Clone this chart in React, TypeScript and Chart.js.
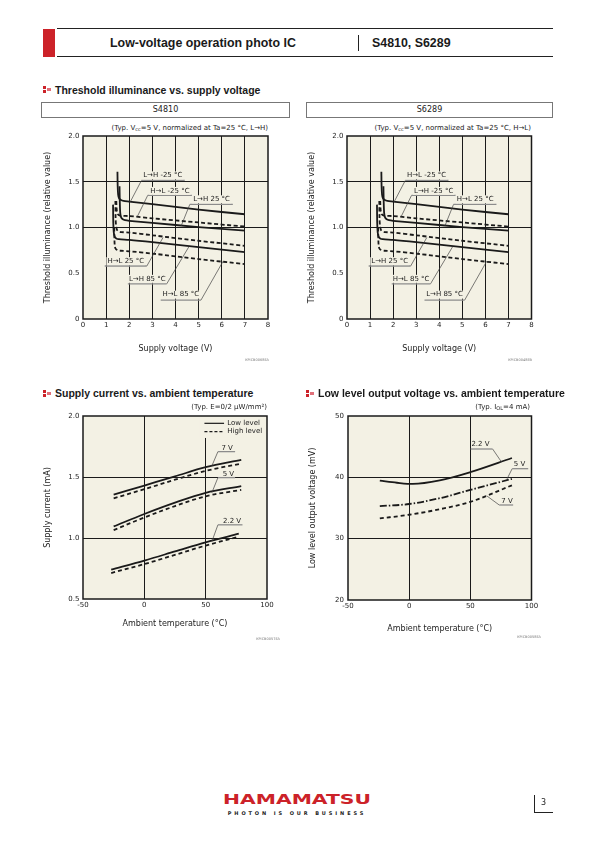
import React, { useEffect, useRef } from "react";
import { Chart, registerables } from "chart.js";

Chart.register(...registerables);

const FONT = "'DejaVu Sans', Verdana, sans-serif";
const HFONT = "'Liberation Sans', Arial, sans-serif";
const BG = "#f3f1e4";
const INK = "#1a1a1a";
const RED = "#cc2229";

// ---------- Threshold illuminance vs. supply voltage (relative value) ----------
const thrGridX = [1, 2, 3, 4, 5, 6, 7];
const thrGridY = [1.0, 1.5];

const m25SolidX = [1.49, 1.5, 1.52, 1.56, 1.64, 1.75, 2, 3, 5, 7];
const m25SolidY = [1.61, 1.45, 1.36, 1.32, 1.3, 1.29, 1.283, 1.255, 1.195, 1.145];
const m25DashX = [1.44, 1.45, 1.47, 1.51, 1.58, 1.7, 2, 3, 5, 7];
const m25DashY = [1.29, 1.22, 1.17, 1.145, 1.132, 1.127, 1.125, 1.1, 1.055, 1.01];
const p25SolidX = [1.58, 1.59, 1.61, 1.65, 1.72, 1.82, 2, 3, 5, 7];
const p25SolidY = [1.45, 1.3, 1.16, 1.11, 1.09, 1.08, 1.073, 1.05, 1.005, 0.965];
const p25DashX = [1.4, 1.41, 1.43, 1.47, 1.54, 1.65, 2, 3, 5, 7];
const p25DashY = [1.29, 1.1, 1.02, 0.975, 0.958, 0.95, 0.945, 0.915, 0.855, 0.8];
const p85SolidX = [1.3, 1.31, 1.33, 1.37, 1.44, 1.55, 2, 3, 5, 7];
const p85SolidY = [1.25, 1.05, 0.95, 0.9, 0.88, 0.872, 0.865, 0.84, 0.785, 0.73];
const p85DashX = [1.35, 1.36, 1.38, 1.42, 1.5, 1.62, 2, 3, 5, 7];
const p85DashY = [1.0, 0.86, 0.79, 0.765, 0.752, 0.746, 0.74, 0.715, 0.655, 0.6];

const s4810Labels = ["L→H -25 °C", "H→L -25 °C", "L→H 25 °C", "H→L 25 °C", "L→H 85 °C", "H→L 85 °C"];
const s6289Labels = ["H→L -25 °C", "L→H -25 °C", "H→L 25 °C", "L→H 25 °C", "H→L 85 °C", "L→H 85 °C"];
// label text centre, underline and leader target (data units)
const thrLabelX = [3.45, 3.76, 5.56, 1.85, 2.78, 4.23];
const thrLabelY = [1.57, 1.4, 1.308, 0.632, 0.439, 0.266];
const thrUnderX1 = [2.53, 2.8, 4.62, 0.94, 1.94, 3.36];
const thrUnderX2 = [4.4, 4.71, 6.48, 2.76, 3.62, 5.1];
const thrUnderY = [1.515, 1.352, 1.253, 0.579, 0.384, 0.206];
const thrLeadFromX = [2.53, 2.8, 4.62, 2.76, 3.62, 5.1];
const thrLeadToX = [2.05, 2.35, 4.25, 3.46, 4.58, 6.06];
const thrLeadToY = [1.283, 1.12, 1.02, 0.89, 0.79, 0.632];

// ---------- Supply current vs. ambient temperature ----------
const scGridX = [0, 50];
const scGridY = [1.0, 1.5];
const scX7 = [-25, 0, 25, 50, 79];
const sc7Low = [1.355, 1.43, 1.505, 1.58, 1.64];
const sc7High = [1.325, 1.4, 1.478, 1.55, 1.61];
const scX5 = [-25, 0, 25, 50, 79];
const sc5Low = [1.095, 1.197, 1.29, 1.37, 1.425];
const sc5High = [1.065, 1.168, 1.262, 1.342, 1.395];
const scX22 = [-27, 0, 25, 50, 77];
const sc22Low = [0.74, 0.815, 0.89, 0.965, 1.035];
const sc22High = [0.713, 0.786, 0.862, 0.938, 1.01];

const scLabels = ["7 V", "5 V", "2.2 V"];
const scLabelX = [67.5, 68.5, 71.5];
const scLabelY = [1.736, 1.525, 1.14];
const scUnderX1 = [60, 60, 60];
const scUnderX2 = [74, 74, 80];
const scUnderY = [1.708, 1.495, 1.108];
const scLeadToX = [55, 55, 55];
const scLeadToY = [1.59, 1.37, 0.97];

// ---------- Low level output voltage vs. ambient temperature ----------
const lvGridX = [0, 50];
const lvGridY = [30, 40];
const lvX22 = [-24, -10, 3, 25, 50, 84];
const lv22 = [39.45, 39.12, 38.93, 39.5, 40.85, 43.15];
const lvX5 = [-24, 0, 25, 50, 84];
const lv5 = [35.3, 35.65, 36.6, 37.95, 39.75];
const lvX7 = [-24, 0, 25, 50, 84];
const lv7 = [33.3, 33.9, 34.8, 36.0, 38.7];

const lvLabels = ["2.2 V", "5 V", "7 V"];
const lvLabelX = [58.3, 90.2, 80];
const lvLabelY = [45.39, 42.13, 36.19];
const lvUnderX1 = [50.3, 84.2, 73.6];
const lvUnderX2 = [68.2, 97.3, 85];
const lvUnderY = [44.62, 41.41, 35.49];
const lvLeadFromX = [68.2, 84.2, 73.6];
const lvLeadToX = [75.5, 79.8, 63.3];
const lvLeadToY = [42.5, 39.65, 37.0];

// ---------------------------------------------------------------------------
type Ann = { text: string; tx: number; ty: number; ux1: number; ux2: number; uy: number; fx: number; lx: number; ly: number; bg: boolean };

function buildAnns(texts: string[], tx: number[], ty: number[], ux1: number[], ux2: number[], uy: number[], fx: number[], lx: number[], ly: number[], bg: boolean): Ann[] {
  return texts.map((t, i) => ({ text: t, tx: tx[i], ty: ty[i], ux1: ux1[i], ux2: ux2[i], uy: uy[i], fx: fx[i], lx: lx[i], ly: ly[i], bg }));
}

const pts = (xs: number[], ys: number[]) => xs.map((x, i) => ({ x, y: ys[i] }));

function line(xs: number[], ys: number[], dash: number[] = [], smooth = false) {
  const base: any = { data: pts(xs, ys), borderColor: INK, borderWidth: 1.8, borderDash: dash, pointRadius: 0, fill: false, tension: 0.3 };
  if (smooth) base.cubicInterpolationMode = "monotone";
  return base;
}

function framePlugin(anns: Ann[], extra?: (chart: any) => void) {
  return {
    id: "framePlugin",
    beforeDraw(chart: any) {
      const { ctx, chartArea: a } = chart;
      ctx.save();
      ctx.fillStyle = BG;
      ctx.fillRect(a.left, a.top, a.right - a.left, a.bottom - a.top);
      ctx.restore();
    },
    afterDatasetsDraw(chart: any) {
      const { ctx, chartArea: a, scales } = chart;
      const X = (v: number) => scales.x.getPixelForValue(v);
      const Y = (v: number) => scales.y.getPixelForValue(v);
      ctx.save();
      ctx.setLineDash([]);
      for (const an of anns) {
        ctx.strokeStyle = "#444";
        ctx.lineWidth = 0.7;
        ctx.beginPath();
        ctx.moveTo(X(an.fx), Y(an.uy));
        ctx.lineTo(X(an.lx), Y(an.ly));
        ctx.stroke();
        ctx.strokeStyle = "#8c8c8c";
        ctx.lineWidth = 1.3;
        ctx.beginPath();
        ctx.moveTo(X(an.ux1), Y(an.uy));
        ctx.lineTo(X(an.ux2), Y(an.uy));
        ctx.stroke();
        ctx.font = `7px ${FONT}`;
        const w = ctx.measureText(an.text).width;
        if (an.bg) {
          ctx.fillStyle = BG;
          ctx.fillRect(X(an.tx) - w / 2 - 1, Y(an.ty) - 4, w + 2, 8);
        }
        ctx.fillStyle = "#222";
        ctx.textAlign = "center";
        ctx.textBaseline = "middle";
        ctx.fillText(an.text, X(an.tx), Y(an.ty));
      }
      if (extra) extra(chart);
      ctx.setLineDash([]);
      ctx.lineWidth = 1.5;
      ctx.strokeStyle = INK;
      ctx.strokeRect(a.left, a.top, a.right - a.left, a.bottom - a.top);
      ctx.restore();
    },
  };
}

type Frame = { left: number; top: number; width: number; height: number; aL: number; aT: number; aR: number; aB: number };
type AxisSpec = {
  min: number; max: number; step: number; grid: number[]; title: string; titlePad: number; tickPad: number;
  fmt: (v: number) => string;
};

const near = (arr: number[], v: any) => typeof v === "number" && arr.some((g) => Math.abs(g - v) < 1e-6);

function makeOptions(f: Frame, xs: AxisSpec, ys: AxisSpec) {
  return {
    responsive: false,
    animation: false,
    events: [],
    layout: { padding: { left: 0, top: f.aT - f.top, right: f.left + f.width - f.aR, bottom: 0 } },
    plugins: { legend: { display: false }, tooltip: { enabled: false }, title: { display: false } },
    scales: {
      x: {
        type: "linear",
        min: xs.min,
        max: xs.max,
        ticks: { stepSize: xs.step, autoSkip: false, maxRotation: 0, padding: xs.tickPad, color: "#222", font: { family: FONT, size: 7 }, callback: (v: any) => xs.fmt(Number(v)) },
        grid: { drawTicks: false, lineWidth: 1, color: (c: any) => (near(xs.grid, c.tick && c.tick.value) ? INK : "rgba(0,0,0,0)") },
        border: { display: false },
        title: { display: true, text: xs.title, color: "#222", font: { family: FONT, size: 8 }, padding: { top: 0, bottom: xs.titlePad } },
        afterFit: (s: any) => {
          s.height = f.top + f.height - f.aB;
          s.paddingLeft = 0;
          s.paddingRight = 0;
        },
      },
      y: {
        type: "linear",
        min: ys.min,
        max: ys.max,
        ticks: { stepSize: ys.step, autoSkip: false, padding: ys.tickPad, color: "#222", font: { family: FONT, size: 7 }, callback: (v: any) => ys.fmt(Number(v)) },
        grid: { drawTicks: false, lineWidth: 1, color: (c: any) => (near(ys.grid, c.tick && c.tick.value) ? INK : "rgba(0,0,0,0)") },
        border: { display: false },
        title: { display: true, text: ys.title, color: "#222", font: { family: FONT, size: 8 }, padding: { top: ys.titlePad, bottom: 0 } },
        afterFit: (s: any) => {
          s.width = f.aL - f.left;
          s.paddingTop = 0;
          s.paddingBottom = 0;
        },
      },
    },
  };
}

function ChartBox({ frame, build }: { frame: Frame; build: () => any }) {
  const ref = useRef<HTMLCanvasElement>(null);
  useEffect(() => {
    const chart = new Chart(ref.current as HTMLCanvasElement, build());
    return () => chart.destroy();
  }, []);
  return (
    <canvas
      ref={ref}
      width={frame.width}
      height={frame.height}
      style={{ position: "absolute", left: frame.left, top: frame.top, width: frame.width, height: frame.height, display: "block" }}
    />
  );
}

const fmt1 = (v: number) => (v === 0 ? "0" : v.toFixed(1));
const fmt0 = (v: number) => String(Math.round(v));

function thresholdConfig(frame: Frame, labels: string[]) {
  const anns = buildAnns(labels, thrLabelX, thrLabelY, thrUnderX1, thrUnderX2, thrUnderY, thrLeadFromX, thrLeadToX, thrLeadToY, true);
  return () => ({
    type: "line",
    data: {
      datasets: [
        line(m25SolidX, m25SolidY),
        line(m25DashX, m25DashY, [4, 2.5]),
        line(p25SolidX, p25SolidY),
        line(p25DashX, p25DashY, [4, 2.5]),
        line(p85SolidX, p85SolidY),
        line(p85DashX, p85DashY, [4, 2.5]),
      ],
    },
    options: makeOptions(
      frame,
      { min: 0, max: 8, step: 1, grid: thrGridX, title: "Supply voltage (V)", titlePad: 6, tickPad: 2, fmt: fmt0 },
      { min: 0, max: 2, step: 0.5, grid: thrGridY, title: "Threshold illuminance (relative value)", titlePad: 7, tickPad: 3.5, fmt: fmt1 }
    ),
    plugins: [framePlugin(anns)],
  });
}

const frame1: Frame = { left: 36, top: 120, width: 240, height: 240, aL: 83, aT: 136, aR: 268, aB: 319 };
const frame2: Frame = { left: 300, top: 120, width: 240, height: 240, aL: 347, aT: 136, aR: 531.5, aB: 319 };
const frame3: Frame = { left: 36, top: 400, width: 240, height: 236, aL: 83, aT: 416, aR: 267, aB: 599 };
const frame4: Frame = { left: 300, top: 400, width: 240, height: 240, aL: 348, aT: 416, aR: 531.5, aB: 600 };

function supplyConfig() {
  const anns = buildAnns(scLabels, scLabelX, scLabelY, scUnderX1, scUnderX2, scUnderY, scUnderX1, scLeadToX, scLeadToY, false);
  const legend = (chart: any) => {
    const { ctx, scales } = chart;
    const X = (v: number) => scales.x.getPixelForValue(v);
    const Y = (v: number) => scales.y.getPixelForValue(v);
    ctx.fillStyle = BG;
    ctx.fillRect(X(45), Y(2.0), X(99.5) - X(45), Y(1.82) - Y(2.0));
    ctx.strokeStyle = INK;
    ctx.lineWidth = 1.2;
    ctx.setLineDash([]);
    ctx.beginPath();
    ctx.moveTo(X(49), Y(1.94));
    ctx.lineTo(X(65), Y(1.94));
    ctx.stroke();
    ctx.setLineDash([3, 2]);
    ctx.beginPath();
    ctx.moveTo(X(49), Y(1.872));
    ctx.lineTo(X(65), Y(1.872));
    ctx.stroke();
    ctx.setLineDash([]);
    ctx.font = `7px ${FONT}`;
    ctx.fillStyle = "#222";
    ctx.textAlign = "left";
    ctx.textBaseline = "middle";
    ctx.fillText("Low level", X(67.6), Y(1.94));
    ctx.fillText("High level", X(67.6), Y(1.872));
  };
  return () => ({
    type: "line",
    data: {
      datasets: [
        line(scX7, sc7Low, [], true),
        line(scX7, sc7High, [4, 3], true),
        line(scX5, sc5Low, [], true),
        line(scX5, sc5High, [4, 3], true),
        line(scX22, sc22Low, [], true),
        line(scX22, sc22High, [4, 3], true),
      ],
    },
    options: makeOptions(
      frame3,
      { min: -50, max: 100, step: 50, grid: scGridX, title: "Ambient temperature (°C)", titlePad: 7, tickPad: 2, fmt: fmt0 },
      { min: 0.5, max: 2, step: 0.5, grid: scGridY, title: "Supply current (mA)", titlePad: 7, tickPad: 3.5, fmt: fmt1 }
    ),
    plugins: [framePlugin(anns, legend)],
  });
}

function lowLevelConfig() {
  const anns = buildAnns(lvLabels, lvLabelX, lvLabelY, lvUnderX1, lvUnderX2, lvUnderY, lvLeadFromX, lvLeadToX, lvLeadToY, false);
  return () => ({
    type: "line",
    data: {
      datasets: [line(lvX22, lv22, [], true), line(lvX5, lv5, [7, 2, 1.5, 2], true), line(lvX7, lv7, [4, 3], true)],
    },
    options: makeOptions(
      frame4,
      { min: -50, max: 100, step: 50, grid: lvGridX, title: "Ambient temperature (°C)", titlePad: 6, tickPad: 2, fmt: fmt0 },
      { min: 20, max: 50, step: 10, grid: lvGridY, title: "Low level output voltage (mV)", titlePad: 8, tickPad: 4, fmt: fmt0 }
    ),
    plugins: [framePlugin(anns)],
  });
}

type TxtProps = { x: number; y: number; size?: number; weight?: number; align?: "left" | "center" | "right"; color?: string; family?: string; style?: React.CSSProperties; children: React.ReactNode };
function Txt({ x, y, size = 8, weight = 400, align = "left", color = "#222", family = FONT, style, children }: TxtProps) {
  const tx = align === "center" ? "-50%" : align === "right" ? "-100%" : "0";
  return (
    <div style={{ position: "absolute", left: x, top: y, transform: `translate(${tx},-50%)`, fontSize: size, fontWeight: weight, fontFamily: family, color, whiteSpace: "nowrap", lineHeight: 1, ...style }}>
      {children}
    </div>
  );
}

const Box = ({ l, t, w, h, bg, border, style }: { l: number; t: number; w: number; h: number; bg?: string; border?: string; style?: React.CSSProperties }) => (
  <div style={{ position: "absolute", left: l, top: t, width: w, height: h, background: bg, border, boxSizing: "border-box", ...style }} />
);

function Icon({ x, y }: { x: number; y: number }) {
  return (
    <>
      <Box l={x} t={y} w={3} h={2.5} bg={RED} />
      <Box l={x} t={y + 4} w={3} h={2.5} bg={RED} />
      <Box l={x + 4} t={y + 2} w={4} h={2.5} bg="#e0707a" />
    </>
  );
}

const subStyle: React.CSSProperties = { fontSize: "0.72em", verticalAlign: "-0.2em", lineHeight: 0 };

export default function App() {
  return (
    <div style={{ position: "absolute", left: 0, top: 0, width: 595, height: 842, background: "#fff", overflow: "hidden" }}>
      {/* page header */}
      <Box l={43} t={29} w={12} h={28} bg={RED} />
      <Box l={57} t={28} w={496} h={1} bg="#222" />
      <Box l={57} t={56} w={496} h={1} bg="#222" />
      <Box l={358} t={35} w={1} h={16} bg="#222" />
      <Txt x={110} y={43} size={12.4} weight={700} family={HFONT} color="#1a1a1a">Low-voltage operation photo IC</Txt>
      <Txt x={372} y={43} size={12.4} weight={700} family={HFONT} color="#1a1a1a">S4810, S6289</Txt>

      {/* section 1 */}
      <Icon x={43} y={86} />
      <Txt x={55} y={89.5} size={10.5} weight={700} family={HFONT} color="#1a1a1a">Threshold illuminance vs. supply voltage</Txt>
      <Box l={41} t={102} w={249} h={16} border="1px solid #777" />
      <Txt x={165.5} y={110} size={8} align="center">S4810</Txt>
      <Box l={306} t={102} w={247} h={16} border="1px solid #777" />
      <Txt x={429.5} y={110} size={8} align="center">S6289</Txt>

      <Txt x={268} y={128} size={7} align="right">(Typ. V<sub style={subStyle}>cc</sub>=5 V, normalized at Ta=25 °C, L→H)</Txt>
      <Txt x={531} y={128} size={7} align="right">(Typ. V<sub style={subStyle}>cc</sub>=5 V, normalized at Ta=25 °C, H→L)</Txt>

      <ChartBox frame={frame1} build={thresholdConfig(frame1, s4810Labels)} />
      <ChartBox frame={frame2} build={thresholdConfig(frame2, s6289Labels)} />
      <Txt x={269} y={361} size={3.5} align="right" color="#777">KPICB0068EA</Txt>
      <Txt x={532} y={361} size={3.5} align="right" color="#777">KPICB0048EB</Txt>

      {/* section 2 */}
      <Icon x={43} y={390} />
      <Txt x={55} y={393} size={10.5} weight={700} family={HFONT} color="#1a1a1a">Supply current vs. ambient temperature</Txt>
      <Icon x={306} y={390} />
      <Txt x={318} y={393} size={10.5} weight={700} family={HFONT} color="#1a1a1a">Low level output voltage vs. ambient temperature</Txt>

      <Txt x={267} y={407} size={7} align="right">(Typ. E=0/2 μW/mm²)</Txt>
      <Txt x={530} y={407} size={7} align="right">(Typ. I<sub style={subStyle}>OL</sub>=4 mA)</Txt>

      <ChartBox frame={frame3} build={supplyConfig()} />
      <ChartBox frame={frame4} build={lowLevelConfig()} />
      <Txt x={280} y={640} size={3.5} align="right" color="#777">KPICB0057EA</Txt>
      <Txt x={541} y={638} size={3.5} align="right" color="#777">KPICB0058EA</Txt>

      {/* footer */}
      <Txt x={297} y={798.5} size={14.5} weight={700} align="center" color={RED} style={{ transform: "translate(-50%,-50%) scaleX(1.4)", fontFamily: FONT }}>HAMAMATSU</Txt>
      <Txt x={297} y={813} size={5} weight={700} align="center" color="#222" style={{ letterSpacing: 2.9 }}>PHOTON IS OUR BUSINESS</Txt>
      <Box l={534} t={795} w={1} h={18} bg="#222" />
      <Box l={534} t={812} w={19} h={1} bg="#222" />
      <Txt x={541} y={803} size={8}>3</Txt>
    </div>
  );
}
